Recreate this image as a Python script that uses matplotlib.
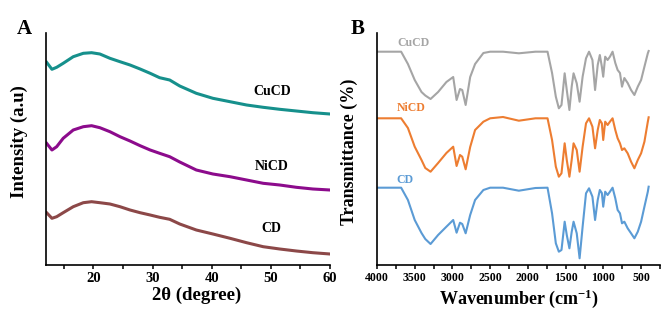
import matplotlib
matplotlib.use("Agg")
import matplotlib.pyplot as plt
from matplotlib.ticker import MultipleLocator

plt.rcParams['font.family'] = ['Liberation Serif', 'DejaVu Serif']
plt.rcParams['font.weight'] = 'bold'
plt.rcParams['mathtext.fontset'] = 'custom'
plt.rcParams['mathtext.rm'] = 'Liberation Serif:bold'
plt.rcParams['mathtext.bf'] = 'Liberation Serif:bold'
plt.rcParams['mathtext.default'] = 'bf'

# ---- Panel A: XRD ----
two_theta = [12.1, 13.0, 13.8, 14.9, 16.6, 18.3, 19.7, 21.1, 22.8, 24.5, 26.2, 27.9, 29.6,
             31.2, 32.9, 34.6, 37.4, 40.2, 43.1, 45.9, 48.7, 51.5, 54.3, 57.1, 60.0]
xrd_cucd = [202.7, 195.7, 197.7, 201.7, 208.3, 211.7, 212.3, 211.0, 206.7, 203.3, 200.0, 196.0, 191.7,
            187.3, 185.0, 179.0, 171.7, 166.7, 163.3, 160.0, 157.7, 155.7, 154.0, 152.3, 151.0]
xrd_nicd = [121.7, 115.0, 118.3, 126.7, 135.0, 138.3, 139.3, 137.3, 133.3, 128.3, 124.0, 119.3, 115.0,
            111.7, 108.3, 103.0, 95.0, 91.0, 88.3, 85.0, 81.7, 80.0, 77.7, 76.0, 75.0]
xrd_cd = [52.3, 46.7, 48.3, 52.3, 58.3, 62.3, 63.3, 62.3, 61.0, 58.3, 55.0, 52.3, 50.0,
          47.7, 45.7, 41.0, 35.0, 31.0, 26.7, 22.3, 18.3, 16.0, 14.0, 12.3, 11.0]

# ---- Panel B: FTIR ----
wavenumber = [4000, 3680, 3590, 3500, 3410, 3360, 3290, 3190, 3080, 2990,
              2945, 2900, 2870, 2825, 2765, 2700, 2590, 2500, 2330, 2120,
              1900, 1740, 1680, 1630, 1590, 1555, 1513, 1485, 1450, 1420,
              1395, 1353, 1315, 1275, 1230, 1190, 1145, 1110, 1075, 1047,
              1020, 1002, 976, 944, 913, 878, 842, 811, 780, 753,
              722, 678, 633, 589, 544, 500, 456, 411, 400]
ftir_cucd = [213.3, 213.3, 201, 185, 173, 169.5, 166, 173, 183, 188,
             165, 176, 175, 160, 188, 201, 212, 213.3, 213.3, 211.7,
             213.3, 213.3, 192, 168.3, 156.7, 160, 191.7, 175, 155, 178.3,
             191.7, 181.7, 163.3, 188.3, 206.7, 213.3, 205, 175, 200, 210,
             198.3, 188.3, 208.3, 205, 208.3, 213.3, 202, 195, 192, 178.3,
             187, 182, 175, 170, 178.3, 185, 198.3, 211.7, 214]
ftir_nicd = [146.7, 146.7, 137, 118.3, 105, 97, 93.3, 102, 112, 118.3,
             99, 110, 108.3, 95.7, 118, 135, 143.3, 146.7, 148, 144.3,
             146.7, 146.7, 125, 98.3, 88.3, 91.7, 121.7, 105, 88.3, 105,
             121.7, 115, 93.3, 118.3, 141.7, 146.7, 138.3, 116.7, 135, 145,
             141.7, 125, 143.3, 140, 143.3, 146.7, 135, 126.7, 121.7, 115,
             116.7, 111.7, 103.3, 96.7, 105, 111.7, 123.3, 143.3, 147.7]
ftir_cd = [77.3, 77.3, 65, 45, 32, 26, 21, 30, 38.3, 45,
           32.3, 42.3, 41, 31.7, 50, 65, 75, 77.3, 77.3, 74.3,
           77, 77.3, 51.7, 21.7, 13.3, 15, 43.3, 30, 16.7, 33,
           43.3, 31.7, 6.7, 38.3, 71.7, 76.7, 68.3, 45, 65, 75,
           72, 58.3, 73.3, 70, 73.3, 77.3, 66.7, 55, 51.7, 41.7,
           43.3, 36.7, 31.7, 26.7, 33.3, 43.3, 58.3, 73.3, 78.3]

fig = plt.figure(figsize=(6.69, 3.09), dpi=100)
axA = fig.add_axes([0.0688, 0.1424, 0.4245, 0.7508])
axB = fig.add_axes([0.5635, 0.1424, 0.4230, 0.7508])

for ax in (axA, axB):
    ax.spines['top'].set_visible(False)
    ax.spines['right'].set_visible(False)
    ax.spines['left'].set_linewidth(1.2)
    ax.spines['bottom'].set_linewidth(1.2)
    ax.set_yticks([])
    ax.set_ylim(0, 232)
    ax.tick_params(axis='x', which='major', direction='out', length=3, width=1.1, pad=2)
    ax.tick_params(axis='x', which='minor', direction='out', length=3, width=1.1)

# Panel A
axA.plot(two_theta, xrd_cucd, color='#16908c', lw=2.2)
axA.plot(two_theta, xrd_nicd, color='#8c0b8c', lw=2.2)
axA.plot(two_theta, xrd_cd, color='#8c4848', lw=2.2)
axA.set_xlim(12, 60)
axA.set_xticks([20, 30, 40, 50, 60])
axA.set_xticklabels(['20', '30', '40', '50', '60'], fontsize=10.5, fontweight='bold')
axA.xaxis.set_minor_locator(MultipleLocator(5))
axA.set_xlabel('2θ (degree)', fontsize=13.5, fontweight='bold')
axA.set_ylabel('Intensity (a.u)', fontsize=13.5, fontweight='bold')
axA.xaxis.set_label_coords(0.53, -0.095)
axA.yaxis.set_label_coords(-0.065, 0.53)
axA.text(50.2, 174, 'CuCD', fontsize=10, fontweight='bold', ha='center', va='center')
axA.text(50.1, 98, 'NiCD', fontsize=10, fontweight='bold', ha='center', va='center')
axA.text(50.1, 36, 'CD', fontsize=10, fontweight='bold', ha='center', va='center')
fig.text(0.037, 0.905, 'A', fontsize=15, fontweight='bold', ha='center', va='center')

# Panel B
axB.plot(wavenumber, ftir_cucd, color='#a5a5a5', lw=1.5)
axB.plot(wavenumber, ftir_nicd, color='#ed7d31', lw=1.5)
axB.plot(wavenumber, ftir_cd, color='#5b9bd5', lw=1.5)
axB.set_xlim(4000, 250)
b_ticks = [4000, 3500, 3000, 2500, 2000, 1500, 1000, 500]
axB.set_xticks(b_ticks)
axB.set_xticklabels([str(t) for t in b_ticks], fontsize=8.5, fontweight='bold')
axB.xaxis.set_minor_locator(MultipleLocator(250))
axB.set_xlabel('Wavenumber (cm$^{-1}$)', fontsize=13, fontweight='bold')
axB.set_ylabel('Transmittance (%)', fontsize=13, fontweight='bold')
axB.xaxis.set_label_coords(0.5, -0.095)
axB.yaxis.set_label_coords(-0.068, 0.49)
axB.text(3513, 222.5, 'CuCD', fontsize=8.5, fontweight='bold', color='#a5a5a5', ha='center', va='center')
axB.text(3544, 156.7, 'NiCD', fontsize=8.5, fontweight='bold', color='#ed7d31', ha='center', va='center')
axB.text(3633, 85, 'CD', fontsize=8.5, fontweight='bold', color='#5b9bd5', ha='center', va='center')
fig.text(0.535, 0.905, 'B', fontsize=15, fontweight='bold', ha='center', va='center')

fig.savefig('out.png', dpi=100)
